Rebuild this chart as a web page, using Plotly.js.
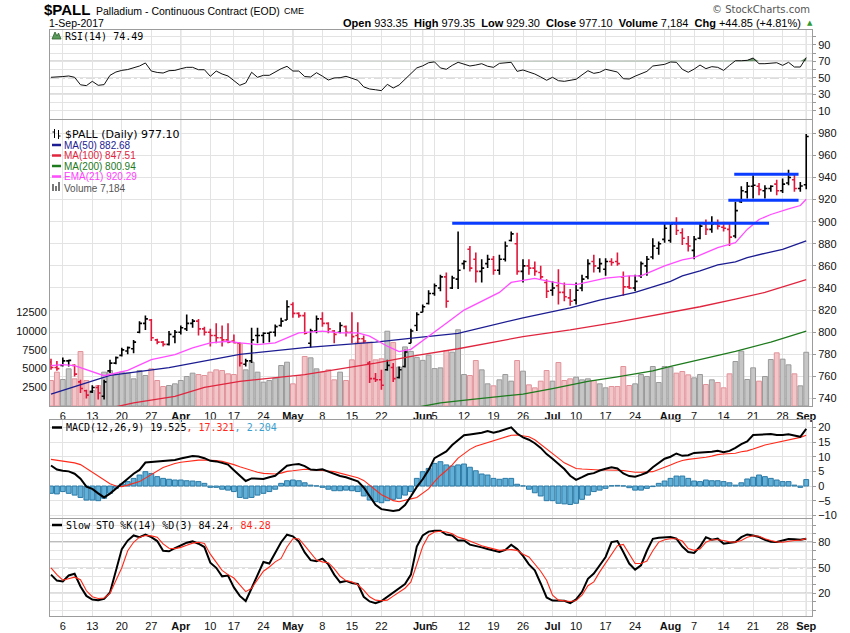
<!DOCTYPE html>
<html><head><meta charset="utf-8">
<script src="https://cdn.plot.ly/plotly-3.0.1.min.js"></script>
<style>html,body{margin:0;padding:0;background:#fff}#chart{width:850px;height:633px}</style>
</head><body><div id="chart"></div>
<script>
// ---------------- DATA ----------------
const dates = [
'2017-03-02','2017-03-03','2017-03-06','2017-03-07','2017-03-08','2017-03-09','2017-03-10','2017-03-13','2017-03-14','2017-03-15',
'2017-03-16','2017-03-17','2017-03-20','2017-03-21','2017-03-22','2017-03-23','2017-03-24','2017-03-27','2017-03-28','2017-03-29',
'2017-03-30','2017-03-31','2017-04-03','2017-04-04','2017-04-05','2017-04-06','2017-04-07','2017-04-10','2017-04-11','2017-04-12',
'2017-04-13','2017-04-17','2017-04-18','2017-04-19','2017-04-20','2017-04-21','2017-04-24','2017-04-25','2017-04-26','2017-04-27',
'2017-04-28','2017-05-01','2017-05-02','2017-05-03','2017-05-04','2017-05-05','2017-05-08','2017-05-09','2017-05-10','2017-05-11',
'2017-05-12','2017-05-15','2017-05-16','2017-05-17','2017-05-18','2017-05-19','2017-05-22','2017-05-23','2017-05-24','2017-05-25',
'2017-05-26','2017-05-30','2017-05-31','2017-06-01','2017-06-02','2017-06-05','2017-06-06','2017-06-07','2017-06-08','2017-06-09',
'2017-06-12','2017-06-13','2017-06-14','2017-06-15','2017-06-16','2017-06-19','2017-06-20','2017-06-21','2017-06-22','2017-06-23',
'2017-06-26','2017-06-27','2017-06-28','2017-06-29','2017-06-30','2017-07-03','2017-07-05','2017-07-06','2017-07-07','2017-07-10',
'2017-07-11','2017-07-12','2017-07-13','2017-07-14','2017-07-17','2017-07-18','2017-07-19','2017-07-20','2017-07-21','2017-07-24',
'2017-07-25','2017-07-26','2017-07-27','2017-07-28','2017-07-31','2017-08-01','2017-08-02','2017-08-03','2017-08-04','2017-08-07',
'2017-08-08','2017-08-09','2017-08-10','2017-08-11','2017-08-14','2017-08-15','2017-08-16','2017-08-17','2017-08-18','2017-08-21',
'2017-08-22','2017-08-23','2017-08-24','2017-08-25','2017-08-28','2017-08-29','2017-08-30','2017-08-31','2017-09-01'];

const openP = [773,768,770,774,770,755,747,746,750,742, 765,772,779,783,785,800,808,811,793,791, 789,796,800,803,808,810,803,800,797,795,
 793,792,790,771,774,797,797,799,800,806, 811,825,817,815,790,801,812,808,801,800, 805,800,797,794,772,758,757,766,768,759,
 769,790,806,818,826,835,840,850,840,848, 862,875,866,855,862,866,856,866,883,880, 855,860,858,854,845,838,842,836,831,829,
 840,850,864,858,857,864,864,850,841,840, 851,860,868,876,884,883,898,890,880,874, 885,898,893,898,895,893,887,918,927,932,
 932,928,930,934,928,935,938,930,933.35];
const highP = [776,774,777,775,771,757,748,752,752,757, 775,778,786,787,793,810,815,812,794,792, 801,802,806,816,812,812,805,803,808,806,
 808,798,791,776,804,804,800,800,807,813, 829,827,818,818,803,815,818,809,802,809, 806,818,809,797,774,763,766,775,772,769,
 784,803,818,825,838,844,852,854,851,891, 865,878,872,866,870,869,870,882,891,890, 866,866,864,860,848,846,857,845,839,845,
 852,866,870,867,867,867,872,855,851,852, 864,869,885,882,899,899,904,894,887,887, 899,902,905,902,900,899,918,932,936,942,
 935,933,933,938,939,947,944,936,979.35];
const lowP = [766,765,769,769,760,745,740,745,739,739, 763,771,778,780,781,799,802,792,789,787, 788,790,798,801,804,797,797,787,790,787,
 790,790,769,769,772,790,790,791,796,805, 811,813,813,798,786,799,805,799,790,799, 796,790,790,790,754,755,748,765,755,758,
 768,790,801,818,825,833,837,822,839,839, 857,855,845,845,858,852,852,864,882,852, 845,852,851,848,831,833,825,828,824,825,
 837,848,854,854,851,860,860,833,839,837, 849,851,866,870,881,881,888,879,873,866, 884,888,890,893,891,878,885,917,921,921,
 924,921,927,924,926,933,927,927,929.30];
const closeP = [768,767,774,774.5,762,749,743,750,745,755, 772,777,784,786,791,808,812,795,791,789, 798,800,804,808,810,803,800,797,795,793,
 791,790.5,772,774,793,797,799,800,805,810, 823,817,815,799,801,812,808,803,798,806, 800,796,794,792,758,757,752,770,758,766,
 782,801,816,823,835,842,850,828,849,856, 864,858,855,858,866,856,866,878,889,855, 860,858,855,850,837,840,836,832,828,838,
 848,862,860,862,864,863,862,841,840,846, 862,866,878,880,894,898,892,885,878,884, 896,893,898,896,894,886,910,928,932,933,
 929,930,932,928,934,940,930,932.25,977.10];
const prevCloseBeforeStart = 772;

const volume = [3409,4523,3543,4968,3632,7287,3409,2072,2741,4523, 4746,4300,4523,4389,3632,4746,4078,4968,3409,2607,
 2741,2963,3409,3944,4389,4211,4078,4523,4834,4746, 4300,4211,8320,4834,5857,4523,3186,3409,3721,5415,
 5857,2963,4078,6618,6440,4968,4523,4834,3499,4523, 3409,6173,8533,8533,8533,6173,6306,10000,8500,5200,
 7900,7300,6500,6100,6800,5000,5100,7420,7197,10188, 4211,4078,6083,4834,2963,2696,3499,4211,3320,6083,
 4656,2830,2429,3320,4746,3320,5816,3409,3632,3855, 3499,3632,3409,2963,2429,2607,2607,5281,2741,2963,
 4211,3944,5281,3142,5281,5192,4389,4612,4167,3766, 4211,2874,3499,3142,2429,4300,5950,7331,3543,5103,
 3320,3944,6217,7108,6262,5504,4300,2696,7184];

// moving averages read at sample days (day index, value)
const ma50Day  = [0,10,20,32,43,55,62,69,80,88,93,99,105,107,110,113,116,118,121,124,128];
const ma50Val  = [744,761,768,780,786,791,795,799,813,822,829,836,846,851,855.5,861,863.6,867.5,871.4,875,882.68];
const ma100Day = [0,8,14,21,26,32,43,55,62,69,80,88,96,105,110,116,121,128];
const ma100Val = [722,729,736,742,750,755.5,761.5,772,779,785,796,802,809,818,823,830,836,847.51];
const ma200Day = [50,55,62,66,71,80,85,91,96,102,105,110,116,122,128];
const ma200Val = [724,728,732,736,739,744,749,755.5,759.5,765,769,775,782.7,791,800.94];
const ema21Day = [0,2,4,7,9,13,17,21,24,27,30,32,35,38,40,42,46,49,52,54,57,59,61,64,67,70,73,76,78,82,84,87,89,92,94,98,100,102,104,107,109,111,113,116,118,120,122,125,127,128];
const ema21Val = [769.7,770.6,769.7,764.6,760.6,765.5,775.2,779.7,785.8,790.3,791.8,790.3,788.8,790.3,794.9,799.4,800.9,799.4,799.4,796.4,787.3,782.5,784.5,796,808,820,828,836,845,848.6,846.5,843.5,843,846.5,849,851,851,855.5,860,865.4,867.5,872,876.5,881,893,902,906.5,911.6,914.6,920.29];

// trend lines drawn on the chart (day index start/end, price level)
const trendFrom  = [68.0, 115.8, 114.8];
const trendTo    = [121.7, 126.7, 126.7];
const trendLevel = [898.5, 942.8, 919.4];

const rsi = [50.6,50.6,51.5,52.2,50.6,41.5,40.5,45.7,40.9,41.7, 53,57,59,60,62,64.3,68,58.2,56.5,55.8,
 58.6,59,61,62.7,62.7,59.8,59.8,51.8,58.2,54.6, 52.2,47,40.9,43.7,56.7,50.6,53,53,57,61,
 63.9,58.2,58.2,51.5,51,56.2,52,47.3,49.8,50.1, 51.8,49,47,39,36.4,35.5,34.4,42.1,37.6,41.3,
 48.2,55.5,62,64.5,68.3,69.3,62,60.3,65.1,68.8, 66.5,64.3,65.5,67.1,64,62.7,67.5,68.2,68.8,57.8,
 59.5,57,54.6,51,47,50.6,46.5,45.7,46.5,48.2, 53.5,58.6,55.4,56.7,60.3,58.5,57,48.9,48.5,52,
 55,57.8,64.3,65.3,66.3,69.2,68.8,60.3,56.7,60.5, 65.5,61.1,63.5,62.7,59,65.1,70.7,70.7,71.2,74,
 67.1,67.1,67.5,68.3,65.1,68.8,63.1,63.1,74.49];

const macd = [7.0,5.6,5.2,5.0,4.2,2.5,-0.2,-1.0,-2.5,-3.9, -2.6,-1.0,0.6,2.5,4.2,5.5,8.0,8.2,8.4,8.6,
 8.7,8.9,9.4,9.8,10.2,10.1,9.5,8.6,8.4,7.9, 7.3,5.4,3.5,1.7,2.6,2.4,2.4,3.0,3.5,5.2,
 6.9,7.3,7.5,6.8,5.6,5.5,5.7,4.9,4.1,3.4, 3.0,2.4,1.6,-0.5,-3.3,-6.4,-7.9,-8.1,-8.5,-8.2,
 -6.5,-3.5,-0.3,2.3,5.5,9.5,10.6,11.8,14.0,15.5, 17.3,17.6,17.8,18.2,18.8,18.2,18.7,19.3,20.0,17.9,
 16.6,15.8,14.6,13.0,10.9,9.3,7.7,5.8,3.5,2.1, 3.0,4.0,4.4,5.3,5.9,6.4,6.0,4.3,3.4,3.2,
 3.8,4.6,6.4,8.0,9.3,10.0,11.1,10.3,10.5,11.3, 11.4,11.5,11.7,12.0,11.5,12.0,13.0,14.3,15.2,17.4,
 17.6,17.7,17.75,17.4,17.4,17.7,17.3,16.8,19.525];
const signal = [9.1,8.8,8.5,8.2,7.9,7.3,6.0,4.8,3.3,2.0, 0.8,0.0,-0.2,0.3,1.0,1.5,2.7,3.9,5.1,6.3,
 7.0,7.7,8.1,8.4,8.7,8.85,8.87,8.87,8.7,8.4, 7.9,7.3,6.6,5.9,5.2,4.7,4.3,4.1,4.1,4.4,
 5.0,5.2,5.5,5.7,5.6,5.5,5.4,5.1,4.9,4.4, 4.0,3.5,2.8,1.9,0.2,-1.2,-3.0,-3.9,-5.0,-5.35,
 -5.0,-4.4,-3.9,-2.3,-1.0,1.5,3.6,5.3,7.2,9.5, 11.0,12.5,13.6,14.2,14.9,15.5,15.9,16.6,17.3,17.4,
 17.2,16.8,15.8,14.3,12.6,11.0,9.5,7.9,6.9,6.0, 5.8,5.6,5.5,5.45,5.45,5.5,5.4,5.3,5.0,4.7,
 4.7,4.8,4.9,5.6,6.3,7.2,8.0,8.7,9.1,9.3, 9.6,9.8,10.2,10.7,10.9,11.0,11.2,11.7,12.0,12.6,
 13.4,14.0,14.4,14.8,15.2,15.6,16.0,16.6,17.321];
const hist = [-2.5,-2.7,-1.9,-2.5,-3.1,-3.9,-4.8,-4.8,-5.0,-4.2, -2.5,-0.8,0.7,1.5,2.6,3.75,4.9,4.3,3.2,2.6,
 2.3,2.05,2.05,1.8,1.7,1.5,0.9,-0.45,-0.45,-1.1, -1.4,-1.9,-3.9,-4.2,-3.9,-3.1,-2.5,-1.9,-1.1,0.9,
 1.8,2.05,1.8,1.1,0.3,0.05,-0.45,-1.1,-1.6,-1.6, -1.4,-1.6,-1.9,-3.4,-4.8,-5.35,-5.7,-5.0,-4.55,-4.2,
 -3.1,-1.9,2.6,4.9,6.0,7.7,8.3,7.2,6.8,7.2, 7.5,6.4,5.2,4.1,3.75,2.6,2.3,2.6,2.6,0.6,
 0.05,-1.1,-2.3,-3.4,-5.0,-5.0,-5.9,-6.1,-6.3,-5.9, -4.55,-3.1,-1.9,-1.4,-0.8,0.1,0.2,0.05,-0.57,-1.4,
 -1.4,-0.8,-0.2,0.9,1.7,2.6,3.4,3.4,2.6,1.7, 1.5,2.05,1.8,1.8,1.5,1.1,0.3,1.1,2.4,3.0,
 3.75,3.2,2.6,2.05,1.5,1.5,0.3,-0.45,2.204];

const stoK = [42,35,34,41,43,28,17,12.8,12,13.5, 21,45,72,82,88,86,89,86,81.4,70,
 69.4,73,76,79.5,81,78.3,74.4,56,50,40, 41,27,17,11,26,41,56.8,55,68,80,
 88.9,87,81,68,59,57.7,60.8,54,42,33, 34.6,32,31,16,10.5,8.5,11,16,20.6,26.4,
 31,42,75,88,92.5,93.5,93.5,89,88,82, 82,77.2,76,74,72,70.5,68.6,71,77,72,
 64,54,47,31.6,15.2,11.5,11.2,11.2,8.5,12.9, 21.8,37,43.3,53,62.7,80.2,81.4,68.6,55,47.9,
 53,70,84,85.4,86,86.1,84.2,75,68.5,67.4, 75,86,83,84.2,78.4,79.5,80.2,86,89.2,88,
 86.1,83,80.7,80.2,82,83.7,83.5,83,84.24];
const stoD = [50,42,35.4,37,39,36,23,16,14,14.5, 20,35,50,70,80,86,88,87.5,86,78,
 73,72.5,74,76.4,79,80,78.5,66,56,47, 42,38,30,22,26,36,46,51,57,61,
 74.4,84.2,84.2,76,67,59,57,56,49,40, 35,33.5,30,23.7,16,12,11.3,12,16.7,21,
 26,33.5,53,75,88,92,93,92,90,86, 84,81.4,78,76,74,72,70.5,71,71.3,70.5,
 66,62.7,55,46,35.4,18,12,11.2,10.5,11.5, 18,29,33.5,45.2,55,66,76,77.5,66.7,55,
 55,58,70,80.2,83,84.2,84.2,81.4,72.5,70.5, 72,80,83,83,82,80.5,80.2,82,86,87.7,
 87,84,82,80.5,80,81.4,82,82.5,84.28];

const tickDates = ['2017-03-06','2017-03-13','2017-03-20','2017-03-27','2017-04-03','2017-04-10','2017-04-17','2017-04-24',
 '2017-05-01','2017-05-08','2017-05-15','2017-05-22','2017-05-30','2017-06-01','2017-06-05','2017-06-12','2017-06-19','2017-06-26',
 '2017-07-03','2017-07-10','2017-07-17','2017-07-24','2017-07-31','2017-08-01','2017-08-07','2017-08-14','2017-08-21','2017-08-28','2017-09-01'];
const tickText = ['6','13','20','27','<b>Apr</b>','10','17','24','<b>May</b>','8','15','22','','<b>Jun</b>','5','12','19','26',
 '<b>Jul</b>','10','17','24','','<b>Aug</b>','7','14','21','28','<b>Sep</b>'];
const monthDates = ['2017-04-03','2017-05-01','2017-06-01','2017-07-03','2017-08-01','2017-09-01'];

// ---------------- LAYOUT HELPERS ----------------
const L=50, R=812, T=30, B=616;
const px = x => (x-L)/(R-L);
const py = y => (B-y)/(B-T);
const day = dates.map((d,i)=>i);
const idx = d => dates.indexOf(d);
const tickIdx = tickDates.map(idx);

const dom = {
  rsi:[py(119),1], price:[py(406),py(120)], macd:[py(518),py(420)], sto:[0,py(518.5)]
};

const isUp = closeP.map((c,i)=> c >= (i===0?prevCloseBeforeStart:closeP[i-1]));
const pick = (arr, want) => arr.filter((v,i)=>isUp[i]===want);

const FONT='Liberation Sans, Arial, sans-serif';
const grid='#e3e3e3', border='#9c9c9c';

const xBase = {range:[-0.17,128.98], tickmode:'array', tickvals:tickIdx, ticktext:tickText, tickangle:0, showgrid:true, gridcolor:grid,
  zeroline:false, showline:true, mirror:true, linecolor:border, ticks:'', fixedrange:true, automargin:false,
  tickfont:{family:FONT,size:11,color:'#111'}, rangeslider:{visible:false}};

const traces = [];
traces.push({x:day, y:day.map(()=>70), xaxis:'x', yaxis:'y', mode:'lines', line:{width:0,color:'rgba(0,0,0,0)'}, hoverinfo:'skip'});
traces.push({x:day, y:rsi.map(v=>Math.max(v,70)), xaxis:'x', yaxis:'y', mode:'lines', line:{width:0,color:'rgba(0,0,0,0)'},
  fill:'tonexty', fillcolor:'rgba(70,120,70,0.75)', hoverinfo:'skip'});
traces.push({x:day, y:rsi, xaxis:'x', yaxis:'y', mode:'lines', line:{color:'#111',width:1}});
traces.push({type:'bar', x:day, y:volume, xaxis:'x2', yaxis:'y2', width:0.82,
  marker:{color:isUp.map(u=>u?'#c6c6c6':'#f2c5c8'), line:{color:isUp.map(u=>u?'#9a9a9a':'#e0939a'),width:1}}});
traces.push({x:ma200Day, y:ma200Val, xaxis:'x2', yaxis:'y3', mode:'lines', line:{color:'#1d7a1d',width:1.3}});
traces.push({x:ma100Day, y:ma100Val, xaxis:'x2', yaxis:'y3', mode:'lines', line:{color:'#e0263f',width:1.3}});
traces.push({x:ma50Day, y:ma50Val, xaxis:'x2', yaxis:'y3', mode:'lines', line:{color:'#1c1c92',width:1.3}});
traces.push({x:ema21Day, y:ema21Val, xaxis:'x2', yaxis:'y3', mode:'lines', line:{color:'#ff4dff',width:1.3}});
[[true,'#000000'],[false,'#e0183c']].forEach(([u,c])=>{
  traces.push({type:'ohlc', x:pick(day,u), open:pick(openP,u), high:pick(highP,u), low:pick(lowP,u), close:pick(closeP,u),
    xaxis:'x2', yaxis:'y3', tickwidth:0.42, increasing:{line:{color:c,width:1.6}}, decreasing:{line:{color:c,width:1.6}}});
});
traces.push({type:'bar', x:day, y:hist, xaxis:'x3', yaxis:'y4', width:0.82, marker:{color:'#62afd8', line:{color:'#2b7aa6',width:1}}});
traces.push({x:day, y:signal, xaxis:'x3', yaxis:'y4', mode:'lines', line:{color:'#ff2a1a',width:1.1}});
traces.push({x:day, y:macd, xaxis:'x3', yaxis:'y4', mode:'lines', line:{color:'#000',width:2}});
traces.push({x:day, y:stoK, xaxis:'x4', yaxis:'y5', mode:'lines', line:{color:'#000',width:2}});
traces.push({x:day, y:stoD, xaxis:'x4', yaxis:'y5', mode:'lines', line:{color:'#ff2a1a',width:1.1}});

const shapes = [];
monthDates.map(idx).forEach(m=>{
  Object.values(dom).forEach(d=>{
    shapes.push({type:'line', xref:'x', yref:'paper', x0:m, x1:m, y0:d[0], y1:d[1], line:{color:'#c2c2c2',width:1}, layer:'below'});
  });
});
const hline=(yref,xr,v,dash)=>({type:'line', xref:xr+' domain', yref:yref, x0:0, x1:1, y0:v, y1:v,
  line:{color:dash?'#8a8a8a':'#7a7a7a', width:dash?1:1.3, dash:dash?'dashdot':'solid'}, layer:'below'});
shapes.push(hline('y','x',70,false), hline('y','x',30,false), hline('y','x',50,true));
shapes.push(hline('y5','x4',80,false), hline('y5','x4',20,false), hline('y5','x4',50,true));
trendLevel.forEach((lv,k)=>{
  shapes.push({type:'line', xref:'x2', yref:'y3', x0:trendFrom[k], x1:trendTo[k], y0:lv, y1:lv, line:{color:'#0a3cff',width:3}});
});
const sw=(x0,x1,y,c,w)=>({type:'line', xref:'paper', yref:'paper', x0:px(x0), x1:px(x1), y0:py(y), y1:py(y), line:{color:c,width:w}});
shapes.push(sw(52,61,145,'#1c1c92',2.5), sw(52,61,155.5,'#e0263f',2.5), sw(52,61,166,'#1d7a1d',2.5), sw(52,61,176.5,'#ff4dff',2.5));
shapes.push(sw(52,62,427.5,'#000',2.5), sw(52,62,525,'#000',2.5));
shapes.push(
  {type:'line',xref:'paper',yref:'paper',x0:px(54.5),x1:px(54.5),y0:py(129),y1:py(138),line:{color:'#000',width:1}},
  {type:'line',xref:'paper',yref:'paper',x0:px(58.5),x1:px(58.5),y0:py(130),y1:py(139),line:{color:'#000',width:1}},
  {type:'line',xref:'paper',yref:'paper',x0:px(52.5),x1:px(54.5),y0:py(132),y1:py(132),line:{color:'#000',width:1}},
  {type:'line',xref:'paper',yref:'paper',x0:px(58.5),x1:px(60.5),y0:py(136),y1:py(136),line:{color:'#000',width:1}});
[[52,54,184],[55,57,186],[58,60,182]].forEach(([a,b,t])=>shapes.push({type:'rect',xref:'paper',yref:'paper',x0:px(a),x1:px(b),y0:py(191),y1:py(t),
  fillcolor:'#777',line:{width:0}}));
shapes.push({type:'path', xref:'paper', yref:'paper',
  path:`M ${px(52)} ${py(39)} L ${px(55)} ${py(32)} L ${px(57)} ${py(36)} L ${px(58.5)} ${py(33)} L ${px(61)} ${py(39)} Z`,
  fillcolor:'#5a9a5a', line:{color:'#2f5f2f',width:0.8}});

const ann=(x,y,text,opt={})=>Object.assign({xref:'paper',yref:'paper',x:px(x),y:py(y),text,showarrow:false,xanchor:'left',yanchor:'middle',
  font:{family:FONT,size:11,color:'#000'}},opt);
const MONO='DejaVu Sans Mono, monospace';
const annotations = [
  ann(42,10,'<b>$PALL</b>',{font:{family:FONT,size:15,color:'#000'}}),
  ann(94,10.5,'Palladium - Continuous Contract (EOD)',{font:{family:FONT,size:10.5,color:'#000'}}),
  ann(282,11,'CME',{font:{family:FONT,size:9,color:'#000'}}),
  ann(47,22.5,'1-Sep-2017',{font:{family:FONT,size:10.5,color:'#000'}}),
  ann(803,22.5,'<b>Open</b> 933.35  <b>High</b> 979.35  <b>Low</b> 929.30  <b>Close</b> 977.10  <b>Volume</b> 7,184  <b>Chg</b> +44.85 (+4.81%)',
    {xanchor:'right',font:{family:FONT,size:11,color:'#000'}}),
  ann(810,22.5,'▲',{xanchor:'center',font:{family:'DejaVu Sans',size:7,color:'#2e9a2e'}}),
  ann(812,9.5,'© StockCharts.com',{xanchor:'right',font:{family:'DejaVu Sans',size:10,color:'#555'}}),
  ann(63,36,'RSI(14) 74.49',{font:{family:MONO,size:10,color:'#000'}}),
  ann(63,134,'$PALL (Daily) 977.10',{font:{family:'DejaVu Sans',size:11,color:'#000'}}),
  ann(62,145,'MA(50) 882.68',{font:{family:FONT,size:10,color:'#1c1c92'}}),
  ann(62,155.5,'MA(100) 847.51',{font:{family:FONT,size:10,color:'#e0263f'}}),
  ann(62,166,'MA(200) 800.94',{font:{family:FONT,size:10,color:'#1d7a1d'}}),
  ann(62,176.5,'EMA(21) 920.29',{font:{family:FONT,size:10,color:'#ff3dff'}}),
  ann(62,188,'Volume 7,184',{font:{family:FONT,size:10,color:'#555'}}),
  ann(64,427.5,'MACD(12,26,9) 19.525<span style="color:#ff2a1a">, 17.321</span><span style="color:#3aa0d0">, 2.204</span>',{font:{family:MONO,size:10,color:'#000'}}),
  ann(64,525,'Slow STO %K(14) %D(3) 84.24<span style="color:#ff2a1a">, 84.28</span>',{font:{family:MONO,size:10,color:'#000'}})
];

const yTick = {family:FONT,size:11,color:'#111'};
const yBase = {showline:true, mirror:true, linecolor:border, zeroline:false, showgrid:true, gridcolor:grid, side:'right',
  ticks:'outside', ticklen:3, tickcolor:'#999', tickfont:yTick, fixedrange:true, tickmode:'array', automargin:false};

const layout = {
  width:850, height:633, margin:{l:L, r:850-R, t:T, b:633-B}, paper_bgcolor:'#fff', plot_bgcolor:'#fff', showlegend:false,
  hovermode:false, bargap:0,
  xaxis: Object.assign({}, xBase, {anchor:'y', showticklabels:false}),
  xaxis2: Object.assign({}, xBase, {anchor:'y2', showticklabels:true}),
  xaxis3: Object.assign({}, xBase, {anchor:'y4', showticklabels:false}),
  xaxis4: Object.assign({}, xBase, {anchor:'y5', showticklabels:true}),
  yaxis: Object.assign({}, yBase, {domain:dom.rsi, range:[0,108], anchor:'x',
    tickvals:[10,20,30,40,50,60,70,80,90,100], ticktext:['10','','30','','50','','70','','90','']}),
  yaxis2: Object.assign({}, yBase, {domain:dom.price, range:[0,38240], anchor:'x2', side:'left', showgrid:false,
    tickvals:[2500,5000,7500,10000,12500], ticktext:['2500','5000','7500','10000','12500'], ticks:''}),
  yaxis3: Object.assign({}, yBase, {overlaying:'y2', range:[733.2,992], anchor:'x2', showline:false,
    tickvals:[740,760,780,800,820,840,860,880,900,920,940,960,980]}),
  yaxis4: Object.assign({}, yBase, {domain:dom.macd, range:[-10.92,22.53], anchor:'x3',
    tickvals:[-10,-5,0,5,10,15,20]}),
  yaxis5: Object.assign({}, yBase, {domain:dom.sto, range:[-6.6,107.9], anchor:'x4',
    tickvals:[0,10,20,30,40,50,60,70,80,90,100], ticktext:['','','20','','','50','','','80','','']}),
  shapes, annotations
};

Plotly.newPlot('chart', traces, layout, {displayModeBar:false, staticPlot:true});
</script></body></html>
